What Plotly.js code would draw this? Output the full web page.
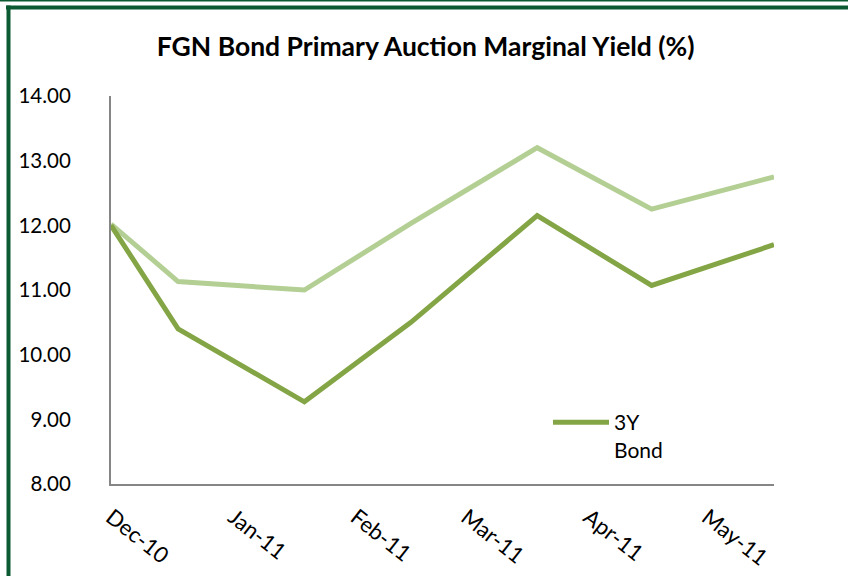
<!DOCTYPE html>
<html>
<head>
<meta charset="utf-8">
<script src="https://cdn.plot.ly/plotly-3.0.1.min.js"></script>
<style>
  html, body { margin: 0; padding: 0; background: #ffffff; }
  #chart { width: 848px; height: 576px; }
</style>
</head>
<body>
<div id="chart"></div>
<script>
// Auction dates (estimated from position on the date axis)
var auctionDates = ["2010-12-01", "2010-12-18", "2011-01-19", "2011-02-15", "2011-03-19", "2011-04-17", "2011-05-18"];
// 3Y Bond marginal yield (%)
var yield3Y = [12.00, 10.40, 9.27, 10.50, 12.15, 11.07, 11.70];
// Second (lighter) bond series marginal yield (%)
var yieldOther = [12.02, 11.13, 11.00, 12.03, 13.20, 12.25, 12.75];
// Axis tick labels
var monthTicks = ["2010-12-01", "2011-01-01", "2011-02-01", "2011-03-01", "2011-04-01", "2011-05-01"];
var monthLabels = ["Dec-10", "Jan-11", "Feb-11", "Mar-11", "Apr-11", "May-11"];
var yTicks = [8, 9, 10, 11, 12, 13, 14];

var FONT = "Lato, 'Open Sans', sans-serif";
var FRAME = "#0b5a32";

// pixel -> paper helpers for the decorative frame
var L = 111, R = 774, T = 96, B = 484;
function px(x) { return (x - L) / (R - L); }
function py(y) { return (B - y) / (B - T); }

var traces = [
  {
    x: auctionDates, y: yieldOther, type: "scatter", mode: "lines",
    name: "Other Bond", showlegend: false,
    line: { color: "#b3cf94", width: 5 }
  },
  {
    x: auctionDates, y: yield3Y, type: "scatter", mode: "lines",
    name: "3Y<br>Bond",
    line: { color: "#84a545", width: 5 }
  }
];

var layout = {
  width: 848, height: 576,
  paper_bgcolor: "#ffffff", plot_bgcolor: "#ffffff",
  margin: { l: L, r: 848 - R, t: T, b: 576 - B, pad: 0 },
  title: {
    text: "<b>FGN Bond Primary Auction Marginal Yield (%)</b>",
    font: { family: FONT, size: 26.5, color: "#000000" },
    x: 0.502, xanchor: "center", xref: "container",
    y: 1 - 47 / 576, yanchor: "middle", yref: "container"
  },
  font: { family: FONT, size: 20, color: "#000000" },
  xaxis: {
    type: "date",
    range: ["2010-12-01", "2011-05-18"],
    tickmode: "array", tickvals: monthTicks, ticktext: monthLabels,
    tickangle: 38,
    showgrid: false, zeroline: false,
    showline: true, linecolor: "#868686", linewidth: 2,
    ticks: "outside", ticklen: 10, tickcolor: "rgba(0,0,0,0)",
    tickfont: { family: FONT, size: 22, color: "#000000" }
  },
  yaxis: {
    range: [8, 14],
    tickmode: "array", tickvals: yTicks,
    tickformat: ".2f",
    showgrid: false, zeroline: false,
    showline: true, linecolor: "#868686", linewidth: 2,
    ticks: "outside", ticklen: 34, tickcolor: "rgba(0,0,0,0)",
    tickfont: { family: FONT, size: 20.5, color: "#000000" }
  },
  showlegend: true,
  legend: {
    x: px(548), y: py(402), xanchor: "left", yanchor: "top",
    valign: "top",
    bgcolor: "rgba(0,0,0,0)",
    itemwidth: 56,
    font: { family: FONT, size: 21, color: "#000000" }
  },
  shapes: [
    { type: "rect", xref: "paper", yref: "paper",
      x0: px(0), x1: px(848), y0: py(0), y1: py(1.5),
      fillcolor: FRAME, line: { width: 0 }, layer: "above" },
    { type: "rect", xref: "paper", yref: "paper",
      x0: px(6), x1: px(848), y0: py(5.5), y1: py(9.5),
      fillcolor: FRAME, line: { width: 0 }, layer: "above" },
    { type: "rect", xref: "paper", yref: "paper",
      x0: px(6.5), x1: px(10.5), y0: py(5.5), y1: py(576),
      fillcolor: FRAME, line: { width: 0 }, layer: "above" }
  ]
};

Plotly.newPlot("chart", traces, layout, { displayModeBar: false, staticPlot: true });
</script>
</body>
</html>
